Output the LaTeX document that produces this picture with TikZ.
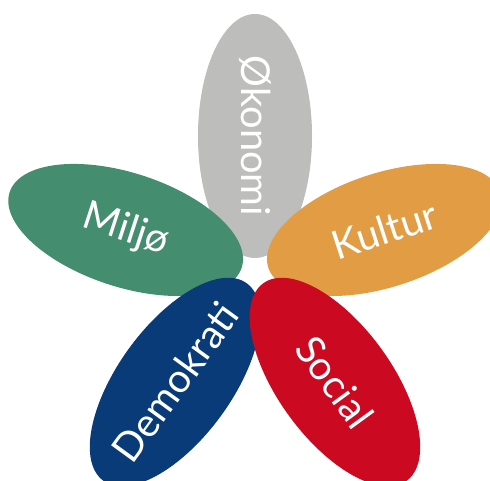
\documentclass[tikz,border=0pt]{standalone}
\usepackage{fontspec}
\setmainfont{Lato}
\usetikzlibrary{calc}
\definecolor{okonomigray}{RGB}{189,189,187}
\definecolor{miljogreen}{RGB}{68,142,111}
\definecolor{kulturorange}{RGB}{226,157,68}
\definecolor{demoblue}{RGB}{8,59,119}
\definecolor{socialred}{RGB}{203,9,32}
\begin{document}
\begin{tikzpicture}
   [x=1bp,y=1bp,
    petal text/.style={text=white,font=\fontsize{40}{40}\selectfont,inner sep=0pt}]
\pgfmathsetmacro{\d}{136}
\pgfmathsetmacro{\a}{122}
\pgfmathsetmacro{\b}{57}

\clip (0,0) rectangle (490,481);

\begin{scope}[shift={(255,209)}]
\fill[okonomigray,rotate=90] (\d,0) ellipse ({\a} and {\b});
\fill[miljogreen,rotate=162] (\d,0) ellipse ({\a} and {\b});
\fill[kulturorange,rotate=18] (\d,0) ellipse ({\a} and {\b});
\fill[demoblue,rotate=234] (\d,0) ellipse ({\a} and {\b});
\fill[socialred,rotate=306] (\d,0) ellipse ({\a} and {\b});

\node[petal text,rotate=-90] (okonomi) at (90:\d) {Økonomi};
\node[petal text,rotate=-18] (miljo) at (162:\d) {Miljø};
\node[petal text,rotate=18] (kultur) at (18:\d) {Kultur};
\node[petal text,rotate=54] (demokrati) at (234:\d) {Demokrati};
\node[petal text,rotate=-54] (social) at (306:\d) {Social};
\end{scope}
\end{tikzpicture}
\end{document}
